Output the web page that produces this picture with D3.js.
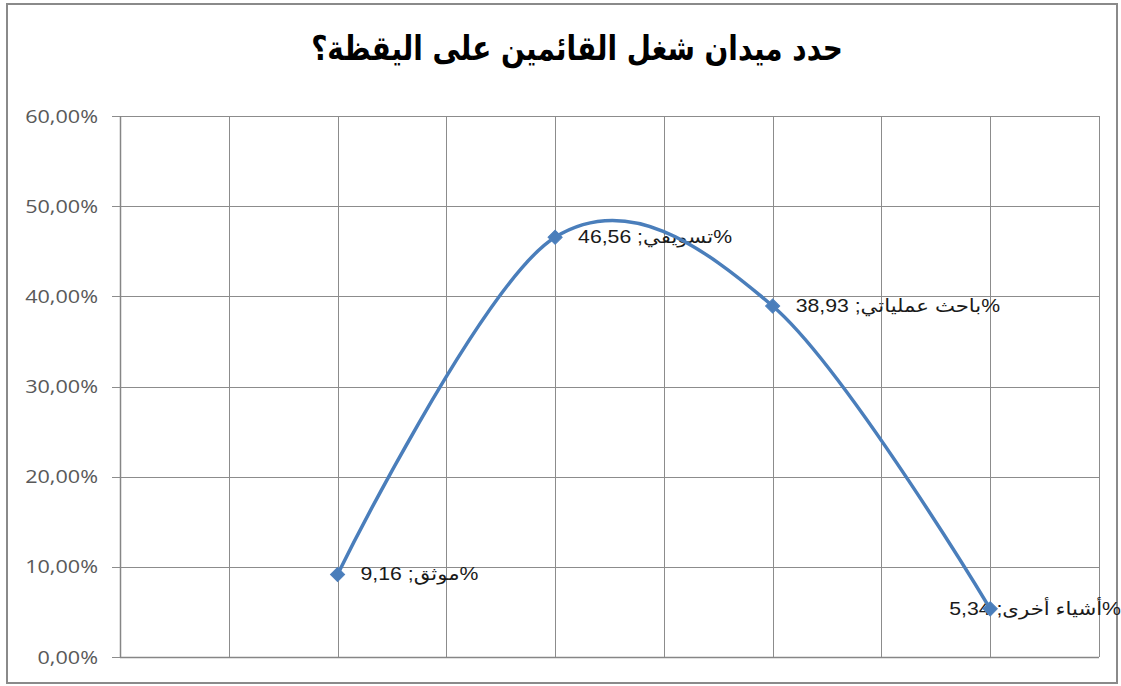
<!DOCTYPE html>
<html>
<head>
<meta charset="utf-8">
<script src="https://cdn.jsdelivr.net/npm/d3@7"></script>
<style>
  html, body { margin: 0; padding: 0; background: #ffffff; }
  svg { display: block; }
</style>
</head>
<body>
<svg id="chart" width="1121" height="686"></svg>
<script>
// Survey: field of work of those in charge of monitoring (veille)
const chartTitle = "حدد ميدان شغل القائمين على اليقظة؟";
const categories = ["موثق", "تسويقي", "باحث عملياتي", "أشياء أخرى"];
const xPositions = [1, 2, 3, 4];
const shares = [9.16, 46.56, 38.93, 5.34];           // percent
const yTicks = [0, 10, 20, 30, 40, 50, 60];          // percent
const xTicks = [0, 0.5, 1, 1.5, 2, 2.5, 3, 3.5, 4, 4.5];

const W = 1121, H = 686;
const plot = { left: 120, right: 1099, top: 116, bottom: 657 };
const blue = "#4a7ebb";
const stretch = 1.18;   // wide lettering used throughout the chart

const svg = d3.select("#chart");

const x = d3.scaleLinear().domain([0, 4.5]).range([plot.left, plot.right]);
const y = d3.scaleLinear().domain([0, 60]).range([plot.bottom, plot.top]);

// Outer chart frame
svg.append("rect")
  .attr("x", 7).attr("y", 4)
  .attr("width", 1110).attr("height", 679)
  .attr("fill", "#ffffff")
  .attr("stroke", "#8a8a8a")
  .attr("stroke-width", 2);

// Title, squeezed horizontally to its box
const title = svg.append("text")
  .attr("text-anchor", "middle")
  .attr("font-family", "'DejaVu Sans', sans-serif")
  .attr("font-weight", "bold")
  .attr("font-size", 34)
  .attr("fill", "#000000")
  .text(chartTitle);
{
  const w = title.node().getComputedTextLength();
  title.attr("transform", `translate(577,60) scale(${532 / w},1)`);
}

// Horizontal gridlines (with tick stubs left of the axis)
svg.append("g")
  .selectAll("line")
  .data(yTicks)
  .join("line")
  .attr("x1", plot.left - 8).attr("x2", plot.right)
  .attr("y1", d => Math.round(y(d)) + 0.5).attr("y2", d => Math.round(y(d)) + 0.5)
  .attr("stroke", "#8c8c8c")
  .attr("stroke-width", 1);

// Vertical gridlines
svg.append("g")
  .selectAll("line")
  .data(xTicks)
  .join("line")
  .attr("x1", d => Math.round(x(d)) + 0.5).attr("x2", d => Math.round(x(d)) + 0.5)
  .attr("y1", plot.top).attr("y2", plot.bottom)
  .attr("stroke", "#8c8c8c")
  .attr("stroke-width", 1);

// Axis lines
svg.append("line")
  .attr("x1", plot.left + 0.5).attr("x2", plot.left + 0.5)
  .attr("y1", plot.top).attr("y2", plot.bottom)
  .attr("stroke", "#868686").attr("stroke-width", 1.5);
svg.append("line")
  .attr("x1", plot.left).attr("x2", plot.right)
  .attr("y1", plot.bottom + 0.5).attr("y2", plot.bottom + 0.5)
  .attr("stroke", "#868686").attr("stroke-width", 1.5);

// Y tick labels
const fmt = d => d.toFixed(2).replace(".", ",") + "%";
svg.append("g")
  .selectAll("text")
  .data(yTicks)
  .join("text")
  .attr("transform", d => `translate(98,${y(d) + 6.5}) scale(1.2,1)`)
  .attr("text-anchor", "end")
  .attr("fill", "#595959")
  .attr("font-family", "'Open Sans', sans-serif")
  .attr("font-size", 18)
  .text(fmt);

const points = xPositions.map((xv, i) => ({ x: xv, v: shares[i], name: categories[i] }));

// Data labels: value ; category %
const labelFmt = v => v.toFixed(2).replace(".", ",");
svg.append("g")
  .selectAll("text")
  .data(points)
  .join("text")
  .attr("transform", (d, i) => {
    const tx = i === points.length - 1 ? W : x(d.x) + 23;
    return `translate(${tx},${y(d.v) + 6}) scale(${stretch},1)`;
  })
  .attr("text-anchor", (d, i) => i === points.length - 1 ? "end" : "start")
  .attr("font-family", "'Liberation Sans', 'DejaVu Sans', sans-serif")
  .attr("font-size", 18)
  .attr("fill", "#1a1a1a")
  .text(d => `${labelFmt(d.v)} ;${d.name}%`);

// Smoothed series line
const line = d3.line()
  .x(d => x(d.x))
  .y(d => y(d.v))
  .curve(d3.curveCardinal.tension(0));
svg.append("path")
  .datum(points)
  .attr("d", line)
  .attr("fill", "none")
  .attr("stroke", blue)
  .attr("stroke-width", 3.5)
  .attr("stroke-linejoin", "round");

// Diamond markers
svg.append("g")
  .selectAll("path")
  .data(points)
  .join("path")
  .attr("d", d3.symbol(d3.symbolSquare, 100))
  .attr("transform", d => `translate(${x(d.x)},${y(d.v)}) rotate(45)`)
  .attr("fill", blue)
  .attr("stroke", "#4f81bd")
  .attr("stroke-width", 1);
</script>
</body>
</html>
